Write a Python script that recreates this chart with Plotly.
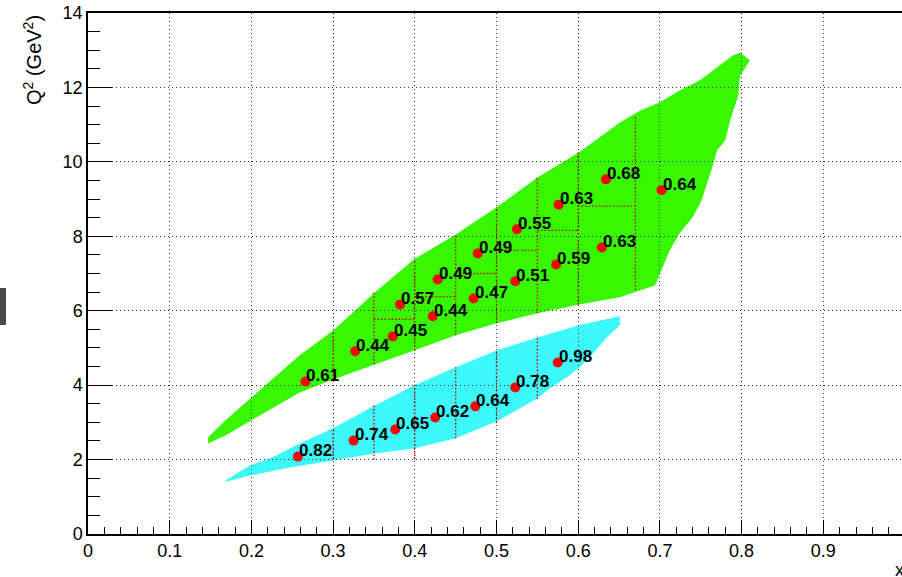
import plotly.graph_objects as go

# ---------------- data ----------------
# green acceptance region outline (x, Q2)
green_edge_x = [0.147, 0.168, 0.200, 0.259, 0.300, 0.351, 0.399, 0.450, 0.500, 0.550, 0.601, 0.651,
                0.676, 0.700, 0.724, 0.749, 0.773, 0.789, 0.798, 0.810, 0.804, 0.798,
                0.796, 0.786, 0.780, 0.770, 0.764, 0.758, 0.751, 0.740, 0.724, 0.712, 0.700, 0.694, 0.676,
                0.651, 0.601, 0.550, 0.500, 0.450, 0.399, 0.351, 0.300, 0.259, 0.200, 0.168, 0.147]
green_edge_q2 = [2.59, 3.05, 3.67, 4.80, 5.47, 6.49, 7.38, 8.05, 8.78, 9.58, 10.26, 11.06,
                 11.38, 11.60, 11.92, 12.19, 12.59, 12.86, 12.94, 12.73, 12.51, 12.33,
                 11.79, 11.12, 10.58, 10.31, 9.85, 9.42, 8.97, 8.51, 8.08, 7.62, 7.00, 6.68, 6.55,
                 6.36, 6.17, 5.93, 5.66, 5.34, 4.93, 4.56, 4.15, 3.80, 3.05, 2.65, 2.43]

# cyan acceptance region outline (x, Q2)
cyan_edge_x = [0.168, 0.198, 0.226, 0.259, 0.300, 0.351, 0.399, 0.450, 0.500, 0.550, 0.601, 0.643, 0.651,
               0.651, 0.635, 0.618, 0.602, 0.586, 0.562, 0.550,
               0.500, 0.450, 0.399, 0.351, 0.300, 0.247, 0.198, 0.170]
cyan_edge_q2 = [1.44, 1.84, 2.06, 2.43, 2.84, 3.45, 3.99, 4.48, 4.93, 5.28, 5.61, 5.82, 5.85,
                5.61, 5.28, 4.85, 4.48, 4.21, 3.86, 3.64,
                3.02, 2.57, 2.30, 2.16, 1.98, 1.79, 1.57, 1.41]

# bin boundaries (red dotted)
green_xbin = [0.30, 0.35, 0.40, 0.45, 0.50, 0.55, 0.60, 0.67]
green_xbin_lo = [4.15, 4.56, 4.93, 5.34, 5.66, 5.93, 6.17, 6.55]
green_xbin_hi = [5.47, 6.49, 7.38, 8.05, 8.78, 9.58, 10.26, 11.25]
green_q2split_x0 = [0.35, 0.40, 0.45, 0.50, 0.55, 0.60]
green_q2split_x1 = [0.40, 0.45, 0.50, 0.55, 0.60, 0.67]
green_q2split = [5.77, 6.38, 7.00, 7.62, 8.16, 8.81]
cyan_xbin = [0.30, 0.35, 0.40, 0.45, 0.50, 0.55]
cyan_xbin_lo = [2.00, 2.00, 2.00, 2.57, 2.98, 3.62]
cyan_xbin_hi = [2.84, 3.45, 4.05, 4.48, 4.93, 5.33]

# bin centres and values
green_x = [0.266, 0.327, 0.373, 0.382, 0.422, 0.428, 0.472, 0.477, 0.523, 0.525, 0.573, 0.576, 0.629, 0.634, 0.702]
green_q2 = [4.10, 4.91, 5.31, 6.17, 5.85, 6.84, 6.33, 7.54, 6.79, 8.19, 7.24, 8.85, 7.70, 9.53, 9.24]
green_val = ["0.61", "0.44", "0.45", "0.57", "0.44", "0.49", "0.47", "0.49", "0.51", "0.55", "0.59", "0.63", "0.63", "0.68", "0.64"]
cyan_x = [0.257, 0.325, 0.376, 0.425, 0.474, 0.523, 0.575]
cyan_q2 = [2.08, 2.51, 2.81, 3.13, 3.43, 3.94, 4.61]
cyan_val = ["0.82", "0.74", "0.65", "0.62", "0.64", "0.78", "0.98"]

x_ticks = [0, 0.1, 0.2, 0.3, 0.4, 0.5, 0.6, 0.7, 0.8, 0.9]
x_ticklabels = ["0", "0.1", "0.2", "0.3", "0.4", "0.5", "0.6", "0.7", "0.8", "0.9"]
y_ticks = [0, 2, 4, 6, 8, 10, 12, 14]
y_ticklabels = ["0", "2", "4", "6", "8", "10", "12", "14"]

# ---------------- figure ----------------
FONT = "Liberation Sans, Arial, Helvetica, sans-serif"
XR = [0, 0.9963]
YR = [0, 14]

fig = go.Figure()

# regions (bottom subplot)
fig.add_trace(go.Scatter(x=green_edge_x, y=green_edge_q2, mode="lines", fill="toself",
                         fillcolor="#38f800", line=dict(width=0, color="#38f800"),
                         xaxis="x", yaxis="y", hoverinfo="skip", showlegend=False))
fig.add_trace(go.Scatter(x=cyan_edge_x, y=cyan_edge_q2, mode="lines", fill="toself",
                         fillcolor="#3df8f8", line=dict(width=0, color="#3df8f8"),
                         xaxis="x", yaxis="y", hoverinfo="skip", showlegend=False))

# red dotted bin lines (top subplot, above the grid)
lx, ly = [], []
for xb, lo, hi in zip(green_xbin, green_xbin_lo, green_xbin_hi):
    lx += [xb, xb, None]
    ly += [lo, hi, None]
for x0, x1, q in zip(green_q2split_x0, green_q2split_x1, green_q2split):
    lx += [x0, x1, None]
    ly += [q, q, None]
for xb, lo, hi in zip(cyan_xbin, cyan_xbin_lo, cyan_xbin_hi):
    lx += [xb, xb, None]
    ly += [lo, hi, None]
fig.add_trace(go.Scatter(x=lx, y=ly, mode="lines",
                         line=dict(color="#c80000", width=1.3, dash="1.5px,2px"),
                         xaxis="x2", yaxis="y2", hoverinfo="skip", showlegend=False))

# points
fig.add_trace(go.Scatter(x=green_x + cyan_x, y=green_q2 + cyan_q2, mode="markers",
                         marker=dict(size=10, color="#ee0a0a", line=dict(width=0)),
                         xaxis="x2", yaxis="y2", showlegend=False))

for xv, qv, t in zip(green_x + cyan_x, green_q2 + cyan_q2, green_val + cyan_val):
    fig.add_annotation(x=xv, y=qv, xref="x2", yref="y2", text=t, showarrow=False,
                       xanchor="left", yanchor="middle", xshift=-1, yshift=6,
                       font=dict(family=FONT, size=17, color="black", weight="bold"))

axis_common = dict(
    showline=True, linecolor="black", linewidth=1.5,
    ticks="inside", tickcolor="black", tickwidth=1.2,
    showgrid=True, gridcolor="#333333", gridwidth=1.2, griddash="1.2px,2.8px",
    zeroline=False, automargin=False, ticklabeloverflow="allow",
    tickfont=dict(family=FONT, size=18, color="black"),
)

fig.update_layout(
    width=902, height=577,
    margin=dict(l=88, r=0, t=13, b=43, autoexpand=False),
    paper_bgcolor="white", plot_bgcolor="rgba(0,0,0,0)",
    xaxis=dict(domain=[0, 1], range=XR, visible=False, anchor="y"),
    yaxis=dict(domain=[0, 1], range=YR, visible=False, anchor="x"),
    xaxis2=dict(domain=[0, 1], range=XR, anchor="y2", mirror=True,
                tickvals=x_ticks, ticktext=x_ticklabels, ticklen=14,
                minor=dict(ticks="inside", ticklen=7, dtick=0.02, tick0=0, tickcolor="black",
                           tickwidth=1.2, showgrid=False),
                **axis_common),
    yaxis2=dict(domain=[0, 1], range=YR, anchor="x2", mirror=False,
                tickvals=y_ticks, ticktext=y_ticklabels, ticklen=24,
                minor=dict(ticks="inside", ticklen=12, dtick=0.5, tick0=0, tickcolor="black",
                           tickwidth=1.2, showgrid=False),
                **axis_common),
    showlegend=False,
)

# axis titles
fig.add_annotation(xref="paper", yref="paper", x=(32 - 88) / 814, y=1.0, xanchor="center", yanchor="top",
                   text="Q<sup>2</sup> (GeV<sup>2</sup>)", textangle=-90, showarrow=False,
                   font=dict(family=FONT, size=20, color="black"))
fig.add_annotation(xref="paper", yref="paper", x=(899 - 88) / 814, y=(534 - 570) / 521,
                   xanchor="center", yanchor="middle", text="x", showarrow=False,
                   font=dict(family=FONT, size=18, color="black"))

# small dark canvas element at the left edge of the reference
fig.add_shape(type="rect", xref="paper", yref="paper", x0=-88 / 814, x1=(6 - 88) / 814,
              y0=(534 - 325) / 521, y1=(534 - 288) / 521,
              fillcolor="#4a4a4a", line=dict(width=0), layer="above")

# remove the default page margin so the 902x577 figure fills the window exactly
fig.write_html("out.html", config={"displayModeBar": False},
               post_script="document.body.style.margin='0';document.body.style.overflow='hidden';")
